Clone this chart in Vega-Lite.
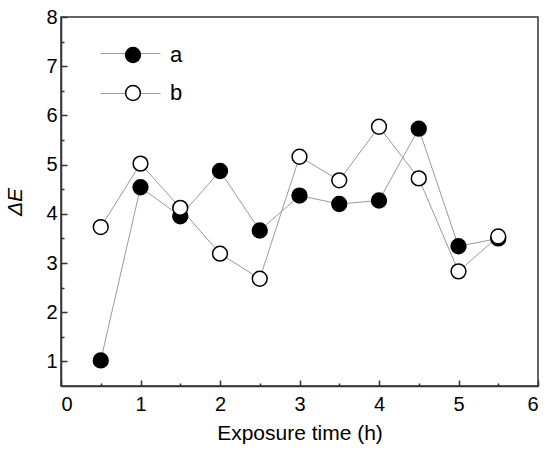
{
  "$schema": "https://vega.github.io/schema/vega-lite/v6.json",
  "width": 477,
  "height": 369,
  "autosize": {"type": "none"},
  "padding": {"left": 61, "top": 17, "right": 12, "bottom": 69},
  "background": "white",
  "data": {
    "values": [
      {"time": 0.5, "dE": 1.02, "series": "a"},
      {"time": 1.0, "dE": 4.54, "series": "a"},
      {"time": 1.5, "dE": 3.95, "series": "a"},
      {"time": 2.0, "dE": 4.87, "series": "a"},
      {"time": 2.5, "dE": 3.66, "series": "a"},
      {"time": 3.0, "dE": 4.37, "series": "a"},
      {"time": 3.5, "dE": 4.2, "series": "a"},
      {"time": 4.0, "dE": 4.27, "series": "a"},
      {"time": 4.5, "dE": 5.73, "series": "a"},
      {"time": 5.0, "dE": 3.34, "series": "a"},
      {"time": 5.5, "dE": 3.5, "series": "a"},
      {"time": 0.5, "dE": 3.73, "series": "b"},
      {"time": 1.0, "dE": 5.02, "series": "b"},
      {"time": 1.5, "dE": 4.12, "series": "b"},
      {"time": 2.0, "dE": 3.19, "series": "b"},
      {"time": 2.5, "dE": 2.68, "series": "b"},
      {"time": 3.0, "dE": 5.16, "series": "b"},
      {"time": 3.5, "dE": 4.68, "series": "b"},
      {"time": 4.0, "dE": 5.77, "series": "b"},
      {"time": 4.5, "dE": 4.72, "series": "b"},
      {"time": 5.0, "dE": 2.83, "series": "b"},
      {"time": 5.5, "dE": 3.54, "series": "b"}
    ]
  },
  "encoding": {
    "x": {
      "field": "time",
      "type": "quantitative",
      "scale": {"domain": [0, 6], "nice": false},
      "axis": {
        "title": "Exposure time (h)",
        "values": [0, 0.5, 1, 1.5, 2, 2.5, 3, 3.5, 4, 4.5, 5, 5.5, 6],
        "format": "~g",
        "labelExpr": "datum.value % 1 === 0 ? datum.label : ''",
        "tickSize": {"condition": {"test": "datum.value % 1 !== 0", "value": -3}, "value": -6},
        "labelPadding": 14,
        "titlePadding": 8
      }
    },
    "y": {
      "field": "dE",
      "type": "quantitative",
      "scale": {"domain": [0.5, 8], "nice": false, "zero": false},
      "axis": {
        "title": "ΔE",
        "titleFontStyle": "italic",
        "values": [1, 1.5, 2, 2.5, 3, 3.5, 4, 4.5, 5, 5.5, 6, 6.5, 7, 7.5, 8],
        "format": "~g",
        "labelExpr": "datum.value % 1 === 0 ? datum.label : ''",
        "tickSize": {"condition": {"test": "datum.value % 1 !== 0", "value": -3}, "value": -6},
        "labelPadding": 10,
        "titlePadding": 20
      }
    }
  },
  "layer": [
    {
      "mark": {"type": "line", "strokeWidth": 1},
      "encoding": {
        "stroke": {
          "field": "series",
          "type": "nominal",
          "scale": {"range": ["#9a9a9a", "#9a9a9a"]},
          "legend": {
            "orient": "none",
            "legendX": 39,
            "legendY": 6,
            "title": null,
            "symbolType": "stroke",
            "symbolSize": 3600,
            "symbolStrokeWidth": 1,
            "labelOpacity": 0,
            "rowPadding": 4,
            "padding": 0
          }
        }
      }
    },
    {
      "mark": {"type": "point", "filled": true, "size": 220, "stroke": "black", "strokeWidth": 1.5, "opacity": 1},
      "encoding": {
        "fill": {
          "field": "series",
          "type": "nominal",
          "scale": {"range": ["black", "white"]},
          "legend": {
            "orient": "none",
            "legendX": 61,
            "legendY": 27,
            "title": null,
            "symbolType": "circle",
            "symbolSize": 220,
            "symbolStrokeColor": "black",
            "symbolStrokeWidth": 1.5,
            "symbolOpacity": 1,
            "labelFontSize": 22,
            "labelFont": "Liberation Sans",
            "labelColor": "black",
            "labelOffset": 26,
            "rowPadding": 16,
            "padding": 0
          }
        }
      }
    }
  ],
  "config": {
    "view": {"stroke": "#333", "strokeWidth": 1.5},
    "axis": {
      "domainColor": "#333",
      "domainWidth": 1.5,
      "tickColor": "#333",
      "tickWidth": 1.5,
      "grid": false,
      "labelFont": "Liberation Sans",
      "labelFontSize": 20,
      "labelColor": "black",
      "titleFont": "Liberation Sans",
      "titleFontSize": 21,
      "titleFontWeight": "normal",
      "titleColor": "black"
    }
  }
}
